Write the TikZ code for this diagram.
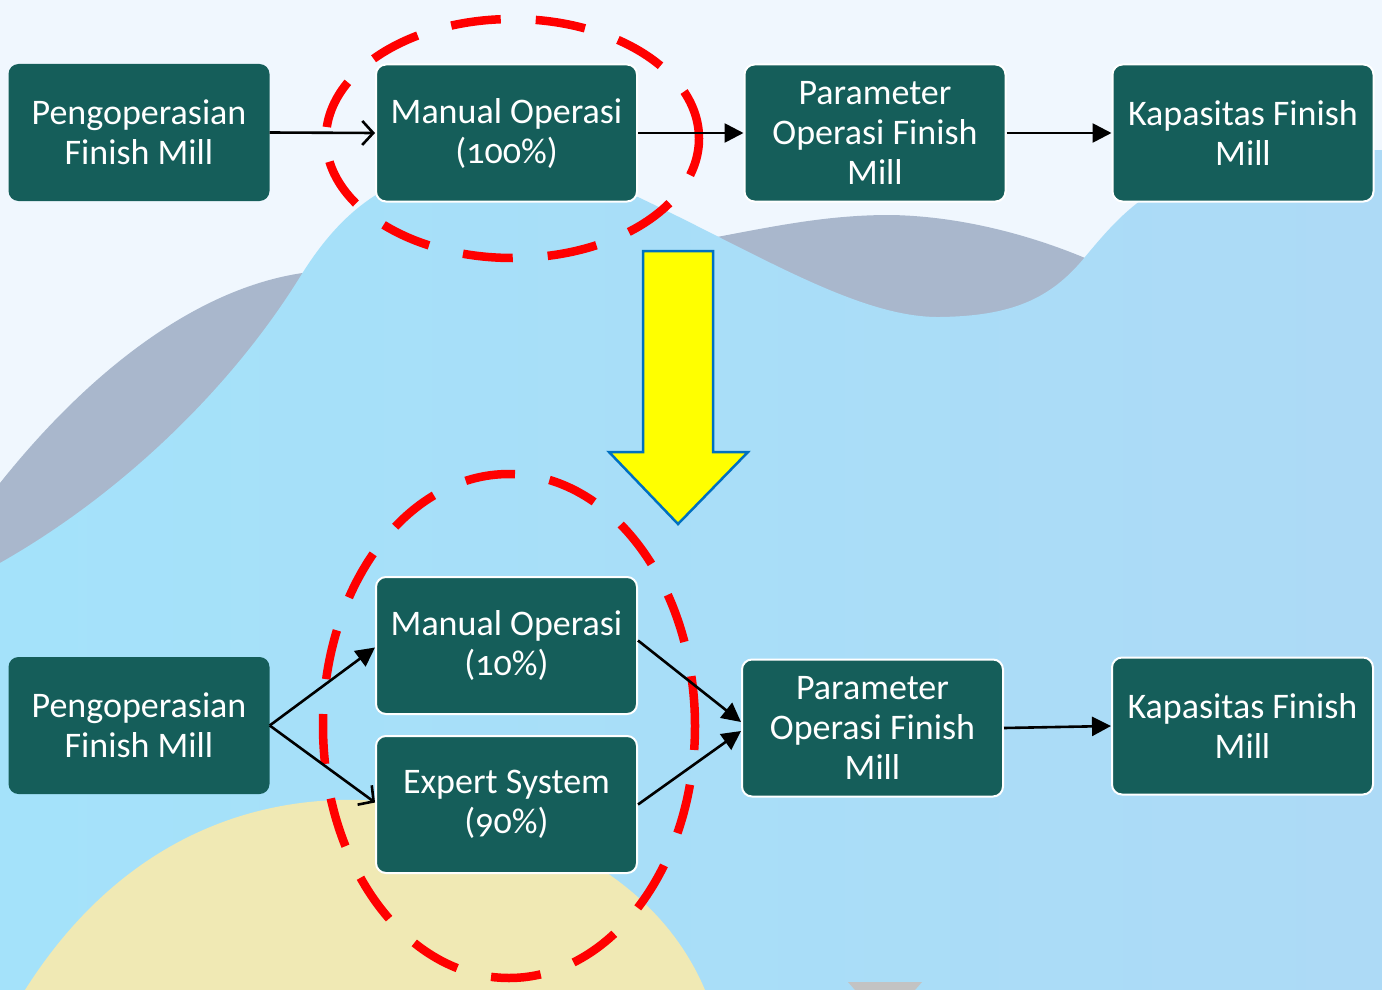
\documentclass[tikz,border=0pt]{standalone}
\usepackage{fontspec}
\setmainfont{Carlito}
\usetikzlibrary{arrows.meta,calc}
\definecolor{bgc}{HTML}{F0F7FE}
\definecolor{wavegray}{HTML}{A9B7CC}
\definecolor{skyL}{HTML}{A4E2FA}
\definecolor{skyR}{HTML}{ADDAF6}
\definecolor{sand}{HTML}{F0E9B4}
\definecolor{boxc}{HTML}{155E5A}
\definecolor{arrowblue}{HTML}{0070C0}
\definecolor{smallgray}{HTML}{C3C3C3}
\definecolor{pureyellow}{RGB}{255,255,0}
\tikzset{
  box/.style={rectangle, rounded corners=10pt, fill=boxc, text=white, align=center,
    minimum width=261pt, minimum height=137pt, inner sep=0pt,
    font=\fontsize{36}{40}\selectfont},
  wbox/.style={box, draw=white, line width=2pt},
  conn/.style={line width=2.6pt, -{Triangle[length=19pt,width=19pt]}},
  openconn/.style={line width=2.6pt, -{Straight Barb[length=11pt,width=24pt,line width=2.6pt]}},
  redring/.style={draw=red, line width=8.5pt, dash pattern=on 50pt off 35pt}
}
\newcommand{\onum}[1]{{\addfontfeatures{Numbers=OldStyle}#1}}
\begin{document}
\begin{tikzpicture}[x=1pt,y=-1pt]
\useasboundingbox (0,0) rectangle (1382,990);
% background
\fill[bgc] (0,0) rectangle (1382,990);
% gray wave
\fill[wavegray] (0,483) .. controls (90,370) and (200,285) .. (310,272)
  -- (717,237) .. controls (780,225) and (830,215) .. (890,215)
  .. controls (960,216) and (1030,235) .. (1085,258)
  -- (1085,400) -- (0,600) -- cycle;
% light blue wave
\path[left color=skyL, right color=skyR] (0,563) .. controls (120,495) and (230,390) .. (300,277)
  .. controls (340,212) and (390,170) .. (470,168)
  .. controls (540,168) and (600,180) .. (640,198)
  .. controls (760,255) and (860,318) .. (940,317)
  .. controls (1010,316) and (1050,300) .. (1085,257)
  .. controls (1120,215) and (1150,180) .. (1230,162)
  .. controls (1300,150) and (1350,150) .. (1382,150)
  -- (1382,990) -- (0,990) -- cycle;
% sand hill
\fill[sand] (25,990) .. controls (120,840) and (250,797) .. (360,800)
  .. controls (500,805) and (650,860) .. (705,990) -- cycle;
% small gray trapezoid
\fill[smallgray] (848,982) -- (922,982) -- (915,990) -- (855,990) -- cycle;

% red dashed rings
\draw[redring] (512.5,138.5) ellipse [x radius=186.5pt, y radius=119.5pt];
\draw[redring] (509,726) ellipse [x radius=186pt, y radius=252pt];

% yellow arrow
\draw[fill=pureyellow, draw=arrowblue, line width=2.5pt, line join=miter]
  (643,251) -- (713,251) -- (713,452) -- (748,452) -- (678,524) -- (609,452) -- (643,452) -- cycle;

% top row
\node[box]  (a1) at (139,132.5) {Pengoperasian\\Finish Mill};
\node[wbox] (a2) at (506.5,133) {Manual Operasi\\(\onum{100}\%)};
\node[wbox] (a3) at (875,133) {Parameter\\Operasi Finish\\Mill};
\node[wbox] (a4) at (1243,133) {Kapasitas Finish\\Mill};

% bottom row
\node[box]  (b1) at (139,725.5) {Pengoperasian\\Finish Mill};
\node[wbox] (b2) at (506.5,645.5) {Manual Operasi\\(\onum{10}\%)};
\node[wbox] (b3) at (506.5,804.5) {Expert System\\(\onum{90}\%)};
\node[wbox] (b4) at (872.5,728) {Parameter\\Operasi Finish\\Mill};
\node[wbox] (b5) at (1242.5,726) {Kapasitas Finish\\Mill};

% connectors
\draw[openconn] (a1.east) -- (a2.west);
\draw[conn] (a2.east) -- (a3.west);
\draw[conn] (a3.east) -- (a4.west);
\draw[conn] (b1.east) -- ([yshift=-2pt]b2.west);
\draw[openconn] (b1.east) -- ([yshift=2pt]b3.west);
\draw[conn] ([yshift=5pt]b2.east) -- ([yshift=6pt]b4.west);
\draw[conn] (b3.east) -- ([yshift=-3pt]b4.west);
\draw[conn] (b4.east) -- (b5.west);
\end{tikzpicture}
\end{document}
